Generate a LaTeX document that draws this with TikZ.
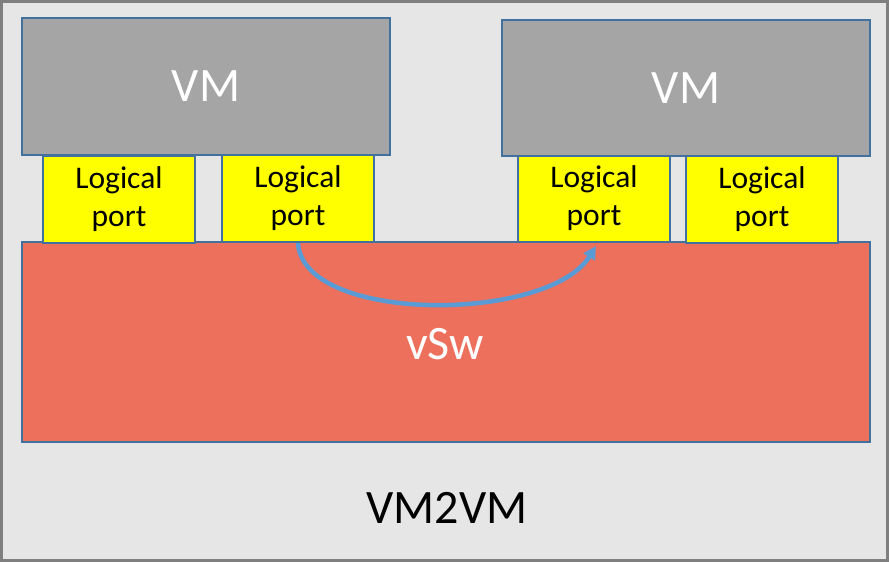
\documentclass[tikz,border=0pt]{standalone}
\usepackage{fontspec}
\setmainfont{Carlito}
\usetikzlibrary{arrows.meta}
\definecolor{framegray}{HTML}{7F7F7F}
\definecolor{canvas}{HTML}{E6E6E6}
\definecolor{vmgray}{HTML}{A5A5A5}
\definecolor{edgeblue}{HTML}{41719C}
\definecolor{portyellow}{HTML}{FFFF00}
\definecolor{switchred}{HTML}{ED705D}
\definecolor{flowblue}{HTML}{5B9BD5}
% two-line port caption, lowered slightly inside its box
\newcommand\portcaption{\raisebox{-3pt}{\begin{tabular}{@{}c@{}}Logical\\port\end{tabular}}}
\tikzset{
  bigtext/.style={font=\fontsize{48}{58}\selectfont},
  box/.style={draw=edgeblue, line width=2pt, inner sep=0pt, anchor=north west},
  vmbox/.style={box, fill=vmgray, text=white, bigtext},
  portbox/.style={box, fill=portyellow, text=black,
    font=\fontsize{31.5}{38}\selectfont, minimum width=152pt, minimum height=87pt},
  swbox/.style={box, fill=switchred},
  flow/.style={draw=flowblue, line width=4.5pt, -{Triangle[length=13pt,width=13pt]}}
}
\begin{document}
\begin{tikzpicture}[x=1pt, y=-1pt]
  % outer panel
  \path[use as bounding box] (0,0) rectangle (889,562);
  \draw[fill=canvas, draw=framegray, line width=3pt] (1.5,1.5) rectangle (887.5,560.5);

  % virtual switch
  \node[swbox, minimum width=848pt, minimum height=200pt] (vsw) at (21,241) {};
  \node[text=white, bigtext] (vswlabel) at (445,344) {vSw};

  % logical ports
  \node[portbox] (p1) at (42,155) {\portcaption};
  \node[portbox] (p2) at (221,154) {\portcaption};
  \node[portbox] (p3) at (517,154) {\portcaption};
  \node[portbox] (p4) at (685,155) {\portcaption};

  % virtual machines
  \node[vmbox, minimum width=368pt, minimum height=137pt] (vm1) at (21,17) {VM};
  \node[vmbox, minimum width=368pt, minimum height=136pt] (vm2) at (501,19) {VM};

  % traffic between the two ports
  \draw[flow] (p2.south) .. controls +(5,81) and +(-48,77) .. ([xshift=2pt,yshift=-3pt]p3.south);

  % caption
  \node[bigtext] (caption) at (447,508) {VM2VM};
\end{tikzpicture}
\end{document}
